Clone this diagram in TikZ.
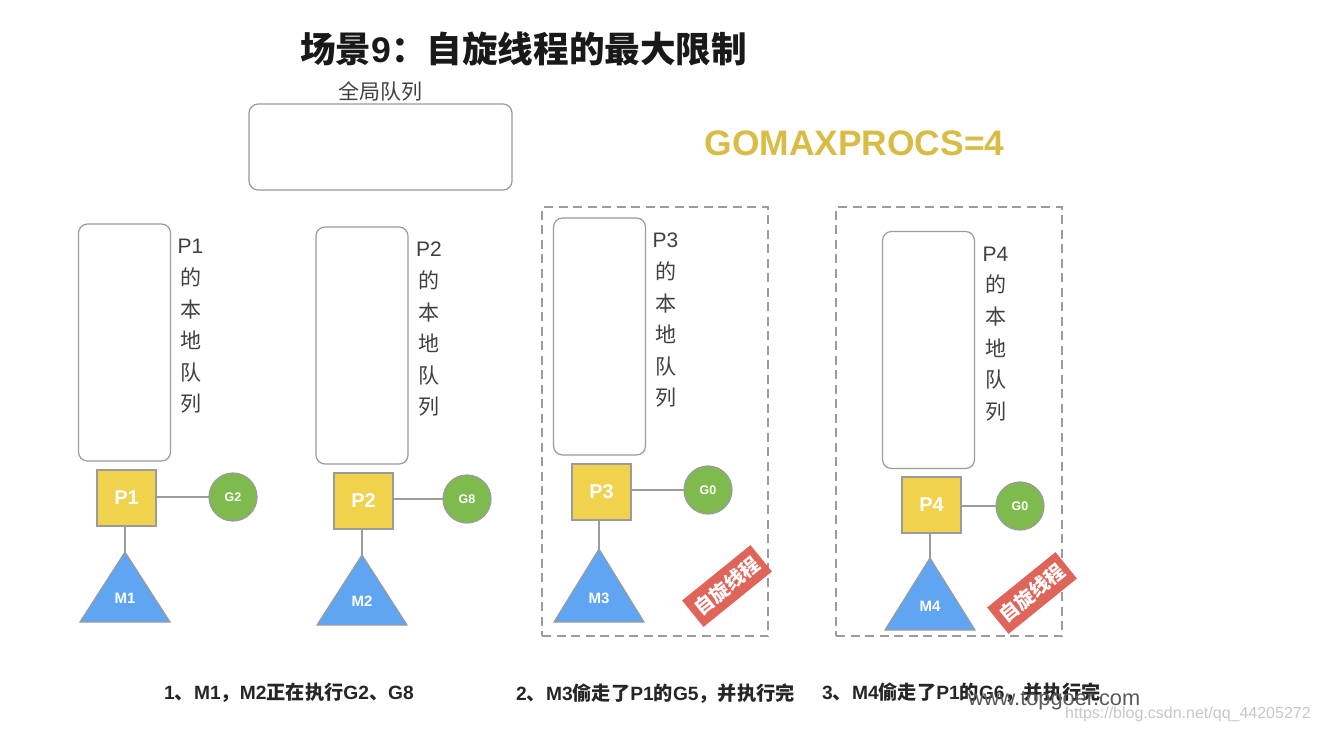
\documentclass[tikz,border=0pt]{standalone}
\usepackage{fontspec}
\setmainfont{Noto Sans CJK SC}
\newfontfamily\hel{Liberation Sans}
\usepackage{xcolor}
\usetikzlibrary{calc}
\definecolor{procyellow}{HTML}{F0D24C}
\definecolor{gorgreen}{HTML}{7FBA4F}
\definecolor{machblue}{HTML}{60A5F2}
\definecolor{spinred}{HTML}{DF6459}
\definecolor{linegray}{HTML}{9B9B9B}
\definecolor{limitgold}{HTML}{D9BC45}
\newcommand*\qwidth{92pt}
\newcommand*\qheight{237pt}
\newcommand*\px[1]{\fontsize{#1}{#1}\selectfont}
\tikzset{
    queuebox/.style = {draw=linegray, line width=1.2pt, rounded corners=9pt, fill=white,
                    inner sep=0pt, outer sep=0pt},
    localqueue/.style = {queuebox, minimum width=\qwidth, minimum height=\qheight},
    globalqueue/.style = {queuebox, minimum width=263pt, minimum height=86pt},
    qlabel/.style = {align=center, font=\fontsize{21}{31.6}\selectfont, inner sep=0pt, text=black!75},
    procbox/.style = {draw=linegray, line width=1.2pt, fill=procyellow, minimum width=59pt,
                    minimum height=56pt, inner sep=0pt, outer sep=0pt, text=white,
                    font=\hel\bfseries\px{20}},
    gorcircle/.style = {draw=linegray, line width=1.2pt, circle, fill=gorgreen, minimum size=48pt,
                    inner sep=0pt, outer sep=0pt, text=white, font=\hel\bfseries\px{12.5}},
    machtri/.style = {draw=linegray, line width=1.2pt, fill=machblue},
    machlabel/.style = {text=white, inner sep=0pt, font=\hel\bfseries\px{15}},
    link/.style = {draw=linegray, line width=1.2pt},
    spinstamp/.style = {fill=spinred, text=white, rotate=39, minimum width=88pt, minimum height=34pt,
                    inner sep=0pt, font=\bfseries\px{19.5}},
    spinframe/.style = {draw=linegray, line width=1.2pt, dash pattern=on 9pt off 5.5pt},
    caption/.style = {inner sep=0pt, text=black!85, font=\bfseries\px{19.2}},
  }

\begin{document}
\begin{tikzpicture}[x=1pt,y=-1pt]
        \useasboundingbox[fill=white] (0,0) rectangle (1317,732);

        % Title and the global queue
        \node[inner sep=0pt, font=\bfseries\px{35.6}, text=black!90] (title) at (523.5,49)
            {场景{\hel 9}：自旋线程的最大限制};
        \node[inner sep=0pt, font=\px{21}, text=black!75] (globallabel) at (380,91) {全局队列};
        \node[globalqueue] (global) at (380.5,147) {};
        \node[inner sep=0pt, text=limitgold, font=\hel\bfseries\px{35.4}] (limit) at (854.5,143) {GOMAXPROCS=4};

        % Dashed frames round the two spinning threads
        \node[spinframe, minimum width=226pt, minimum height=429pt, inner sep=0pt] (frameA) at (655,421.5) {};
        \node[spinframe, minimum width=226pt, minimum height=429pt, inner sep=0pt] (frameB) at (949,421.5) {};

        % One group per P: index, centre of queue, label x, centre of P, centre of G, name of G, apex, base
        \foreach \i/\qx/\qy/\lx/\cx/\cy/\gx/\gy/\gname/\ax/\ay/\by in {
                1/124.5/342.5/190.5/126.5/498/233/497/G2/125/552/622,
                2/362/345.5/429/363.5/501/467/499/G8/362/555/625,
                3/599.5/336.5/665.5/601.5/492/708/490/G0/599/549/622,
                4/928.5/350/995.5/931.5/505/1020/506/G0/930/558/630} {
            \node[localqueue] (Q\i) at (\qx,\qy) {};
            \node[qlabel, anchor=center] (L\i) at (\lx,\qy-16) {{\hel P\i}\\的\\本\\地\\队\\列};
            \node[procbox] (P\i) at (\cx,\cy) {P\i};
            \node[gorcircle] (G\i) at (\gx,\gy) {\gname};
            % The triangle is a path, its apex is what the connector reaches
            \coordinate (A\i) at (\ax,\ay);
            \draw[machtri] (A\i) -- (\ax+45,\by) -- (\ax-45,\by) -- cycle;
            \node[machlabel] (M\i) at (\ax,\by-23.5) {M\i};
            \draw[link] (P\i.east |- G\i) -- (G\i);
            \draw[link] (P\i.south -| A\i) -- (A\i);
        }

        % Stamps on the spinning threads
        \node[spinstamp] (spinA) at (727,586) {自旋线程};
        \node[spinstamp] (spinB) at (1032,593) {自旋线程};

        % Captions
        \node[caption, anchor=west] (capA) at (164,693)
            {{\hel 1}、{\hel M1}，{\hel M2}正在执行{\hel G2}、{\hel G8}};
        \node[caption, anchor=west] (capB) at (516,694)
            {{\hel 2}、{\hel M3}偷走了{\hel P1}的{\hel G5}，并执行完};
        \node[caption, anchor=west] (capC) at (822,693)
            {{\hel 3}、{\hel M4}偷走了{\hel P1}的{\hel G6}，并执行完};

        % Watermarks lying over the last caption
        \node[inner sep=0pt, anchor=west, text=black!65, font=\hel\px{21.8}] (markA) at (968,701) {www.topgoer.com};
        \node[inner sep=0pt, anchor=west, text=black!22, font=\hel\px{16}] (markB) at (1065,714) {https://blog.csdn.net/qq\_44205272};
    \end{tikzpicture}
\end{document}
